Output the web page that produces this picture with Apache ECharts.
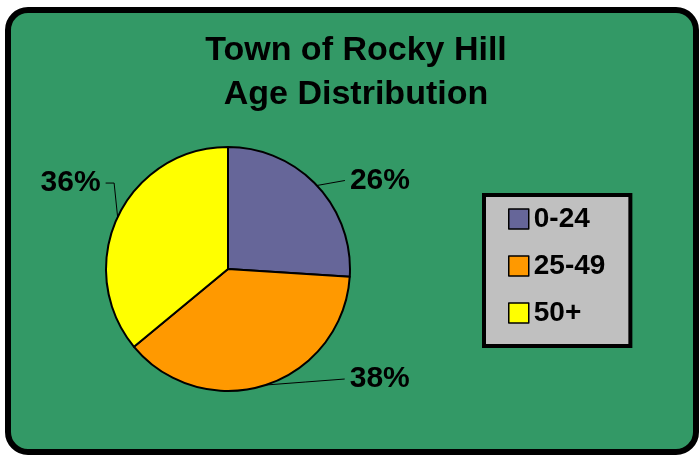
<!DOCTYPE html>
<html><head><meta charset="utf-8">
<script src="https://cdn.jsdelivr.net/npm/echarts@6/dist/echarts.min.js"></script>
<style>html,body{margin:0;padding:0;background:#fff}#c{width:699px;height:455px}</style>
</head><body><div id="c"></div>
<script>
const titleLines = ['Town of Rocky Hill', 'Age Distribution'];
const categories = ['0-24', '25-49', '50+'];
const values = [26, 38, 36];
const colors = ['#666699', '#FF9900', '#FFFF00'];
// label shift from the slice's anchor point: [dx, dy, bendX or null]
const labelShift = [[33, -5, null], [84, -6, null], [-17, -34, -3.5]];
const FONT = '"Liberation Sans", Arial, Helvetica, sans-serif';

const chart = echarts.init(document.getElementById('c'), null, {renderer: 'canvas'});
chart.setOption({
  animation: false,
  backgroundColor: '#ffffff',
  graphic: [{
    type: 'rect', z: -10, silent: true,
    shape: {x: 8, y: 10, width: 688, height: 442, r: 20},
    style: {fill: '#339966', stroke: '#000000', lineWidth: 6}
  }],
  title: {
    text: titleLines.join('\n'),
    left: 356, top: 29, textAlign: 'center', padding: 0,
    textStyle: {fontSize: 34, fontWeight: 'bold', color: '#000', lineHeight: 44, fontFamily: FONT}
  },
  legend: {
    orient: 'vertical', left: 484, top: 195,
    backgroundColor: '#C0C0C0', borderColor: '#000', borderWidth: 4, borderRadius: 0,
    padding: [10, 25, 19, 24],
    itemWidth: 20, itemHeight: 20, itemGap: 19,
    icon: 'rect',
    itemStyle: {borderColor: '#000', borderWidth: 1.5},
    textStyle: {fontSize: 28, fontWeight: 'bold', color: '#000', fontFamily: FONT},
    data: categories
  },
  series: [{
    type: 'pie',
    center: [228, 269], radius: 122,
    startAngle: 90, clockwise: true,
    avoidLabelOverlap: false,
    emphasis: {disabled: true},
    data: categories.map((c, i) => ({name: c, value: values[i], itemStyle: {color: colors[i]}})),
    itemStyle: {borderColor: '#000', borderWidth: 2},
    label: {
      show: true, position: 'outside',
      formatter: p => Math.round(p.percent) + '%',
      fontSize: 30, fontWeight: 'bold', color: '#000', fontFamily: FONT
    },
    labelLine: {show: true, length: 5, length2: 10, lineStyle: {color: '#000', width: 1}},
    labelLayout: function (p) {
      const pts = p.labelLinePoints;
      if (!pts || !pts.length) return {};
      const a = pts[0];
      const s = labelShift[p.dataIndex];
      const x = a[0] + s[0], y = a[1] + s[1];
      const right = s[0] > 0;
      const end = [x + (right ? -5 : 5), y];
      const mid = s[2] == null ? [(a[0] + end[0]) / 2, (a[1] + end[1]) / 2] : [a[0] + s[2], y];
      return {
        x: x, y: y, align: right ? 'left' : 'right', verticalAlign: 'middle',
        labelLinePoints: [a, mid, end]
      };
    }
  }]
});
</script></body></html>
